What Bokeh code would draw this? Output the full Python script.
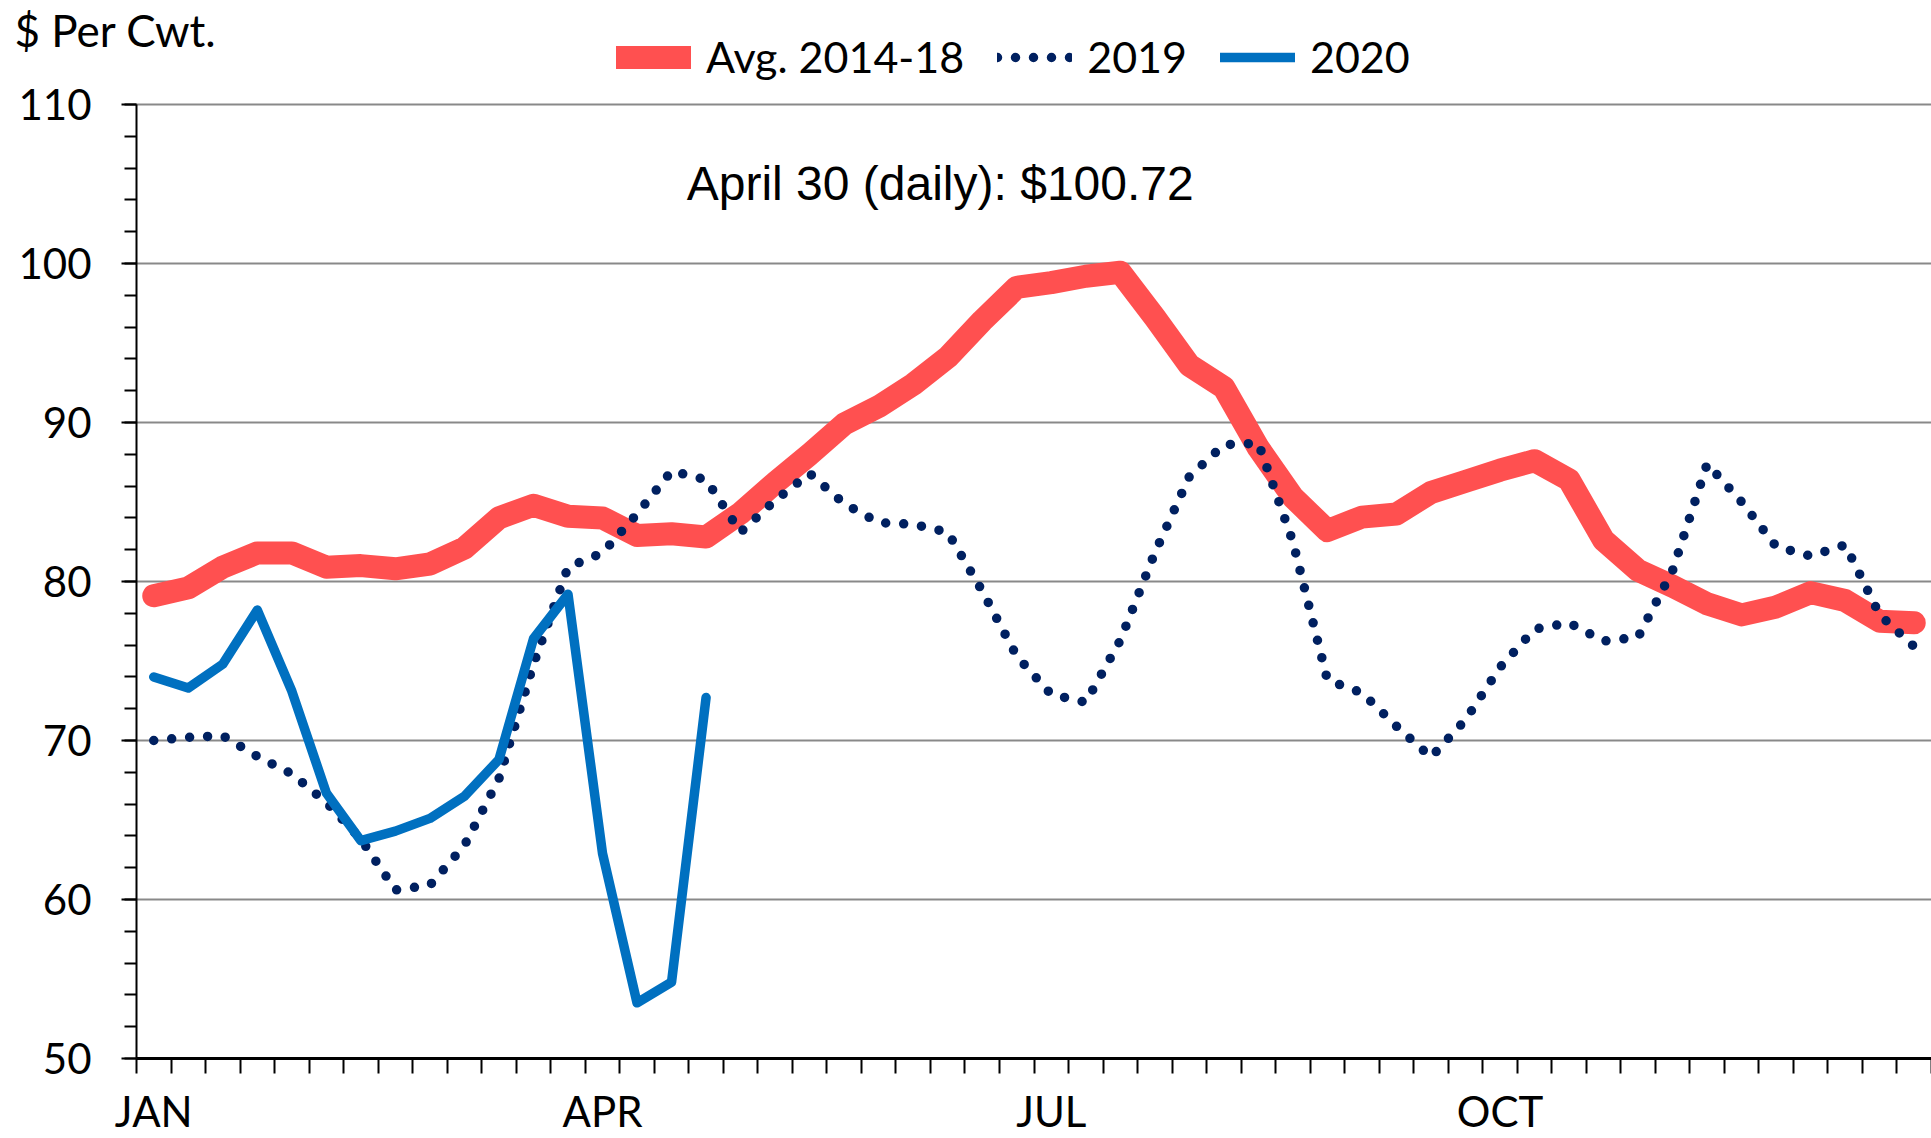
from bokeh.plotting import figure
from bokeh.models import Range1d, FixedTicker, Label, Legend, LegendItem
from bokeh.embed import file_html
from bokeh.resources import INLINE

# ---------------- data ----------------
weeks = list(range(1, 53))
avg_2014_18 = [79.1, 79.6, 80.9, 81.8, 81.8, 80.9, 81.0, 80.8, 81.1, 82.1,
               84.0, 84.8, 84.1, 84.0, 82.9, 83.0, 82.8, 84.3, 86.2, 88.0,
               89.9, 91.0, 92.4, 94.1, 96.4, 98.5, 98.8, 99.2, 99.45, 96.6,
               93.6, 92.2, 88.4, 85.3, 83.2, 84.05, 84.25, 85.6, 86.3, 87.0,
               87.6, 86.4, 82.6, 80.7, 79.7, 78.6, 77.9, 78.4, 79.3, 78.8,
               77.5, 77.4]
y2019 = [70.0, 70.2, 70.3, 69.0, 67.9, 66.1, 63.8, 60.6, 60.9, 63.4,
         67.6, 74.8, 80.9, 81.8, 84.25, 86.95, 86.4, 83.1, 85.1, 86.8,
         84.9, 83.7, 83.6, 83.1, 79.4, 75.3, 72.9, 72.4, 76.3, 81.8,
         86.6, 88.6, 88.7, 82.5, 73.8, 73.0, 70.9, 68.95, 71.3, 74.6,
         77.0, 77.4, 76.25, 76.5, 80.7, 87.4, 85.0, 82.2, 81.6, 82.3,
         77.9, 75.9]
y2020 = [74.0, 73.3, 74.8, 78.2, 73.1, 66.7, 63.7, 64.3, 65.1, 66.5,
         68.8, 76.4, 79.2, 62.9, 53.5, 54.8, 72.7]
weeks_2020 = weeks[:len(y2020)]

series_names = ["Avg. 2014-18", "2019", "2020"]
month_labels = ["JAN", "APR", "JUL", "OCT"]
month_weeks = [1, 14, 27, 40]
y_ticks = [50, 60, 70, 80, 90, 100, 110]
y_minor = list(range(50, 111, 2))
y_unit_label = "$ Per Cwt."
note_text = "April 30 (daily): $100.72"

# ---------------- layout (pixels) ----------------
W, H = 1931, 1138
AXIS_X = 136            # canvas px of the value axis
Y_TOP_PX = 104          # canvas px of the 110 line
Y_BOT_PX = 1058         # canvas px of the 50 line
x_lo, x_hi = weeks[0] - 0.5, weeks[-1] + 0.5
px_per_week = (W - AXIS_X) / (x_hi - x_lo)
x_start = x_lo - AXIS_X / px_per_week
units_per_px = (y_ticks[-1] - y_ticks[0]) / (Y_BOT_PX - Y_TOP_PX)
y_end = y_ticks[-1] + Y_TOP_PX * units_per_px
y_start = y_ticks[0] - (H - Y_BOT_PX) * units_per_px

p = figure(width=W, height=H, output_backend="svg", toolbar_location=None,
           x_range=Range1d(x_start, x_hi), y_range=Range1d(y_start, y_end),
           min_border_left=0, min_border_right=0, min_border_top=0,
           min_border_bottom=0)
p.outline_line_color = None
p.background_fill_color = "white"
p.border_fill_color = "white"

FONT = "Lato"

# x axis (sits on the 50 line)
p.xaxis.fixed_location = y_ticks[0]
p.xaxis.bounds = (x_lo, x_hi)
p.xaxis.ticker = FixedTicker(ticks=month_weeks,
                             minor_ticks=[w - 0.5 for w in weeks] + [x_hi])
p.xaxis.major_label_overrides = {w: l for w, l in zip(month_weeks, month_labels)}
p.xaxis.major_tick_out = 0
p.xaxis.major_tick_in = 0
p.xaxis.minor_tick_out = 15
p.xaxis.minor_tick_in = 0
p.xaxis.minor_tick_line_width = 2
p.xaxis.minor_tick_line_color = "black"
p.xaxis.axis_line_width = 3
p.xaxis.axis_line_color = "black"
p.xaxis.major_label_standoff = 12

# y axis (sits on the left edge of week 1)
p.yaxis.fixed_location = x_lo
p.yaxis.ticker = FixedTicker(ticks=y_ticks, minor_ticks=y_minor)
p.yaxis.bounds = (y_ticks[0], y_ticks[-1])
p.yaxis.major_tick_out = 15
p.yaxis.major_tick_in = 0
p.yaxis.minor_tick_out = 12
p.yaxis.minor_tick_in = 0
p.yaxis.major_tick_line_width = 2
p.yaxis.minor_tick_line_width = 2
p.yaxis.major_tick_line_color = "black"
p.yaxis.minor_tick_line_color = "black"
p.yaxis.axis_line_width = 2
p.yaxis.axis_line_color = "black"
p.yaxis.major_label_standoff = 30

for ax in (p.xaxis, p.yaxis):
    ax.major_label_text_font = FONT
    ax.major_label_text_font_size = "42px"
    ax.major_label_text_color = "black"

# grid
p.xgrid.visible = False
yg = p.ygrid[0]
yg.ticker = FixedTicker(ticks=y_ticks[1:])
if "cross_bounds" in yg.properties():
    yg.cross_bounds = (x_lo, x_hi)
    yg.grid_line_color = "#898989"
    yg.grid_line_width = 2
else:
    yg.visible = False
    p.segment(x0=[x_lo] * len(y_ticks[1:]), x1=[x_hi] * len(y_ticks[1:]),
              y0=y_ticks[1:], y1=y_ticks[1:], line_color="#898989", line_width=2)

# ---------------- series ----------------
r_avg = p.line(weeks, avg_2014_18, line_color="#FF5050", line_width=23,
               line_cap="round", line_join="round")
r19 = p.line(weeks, y2019, line_color="#002060", line_width=9.5,
             line_dash="0 18", line_cap="round", line_join="round")
r20 = p.line(weeks_2020, y2020, line_color="#0070C0", line_width=9.5,
             line_cap="round", line_join="round")

LEG_H = 52
legend = Legend(items=[LegendItem(label=series_names[0], renderers=[r_avg]),
                       LegendItem(label=series_names[1], renderers=[r19]),
                       LegendItem(label=series_names[2], renderers=[r20])],
                orientation="horizontal", location=(616, H - 56 - LEG_H // 2),
                glyph_width=75, glyph_height=40, label_standoff=15, spacing=33,
                padding=0, margin=0,
                label_text_font=FONT, label_text_font_size="43px",
                label_text_color="black",
                background_fill_alpha=0, border_line_alpha=0)
p.add_layout(legend)

p.add_layout(Label(x=14, y=H - 29, x_units="screen", y_units="screen",
                   text=y_unit_label, text_baseline="alphabetic", text_align="left",
                   text_font=FONT, text_font_size="44px", text_color="black"))

p.add_layout(Label(x=16.44, y=105.03, text=note_text,
                   text_baseline="alphabetic", text_align="left",
                   text_font="Liberation Sans", text_font_size="48px",
                   text_color="black"))

open("out.html", "w").write(file_html(p, INLINE))
